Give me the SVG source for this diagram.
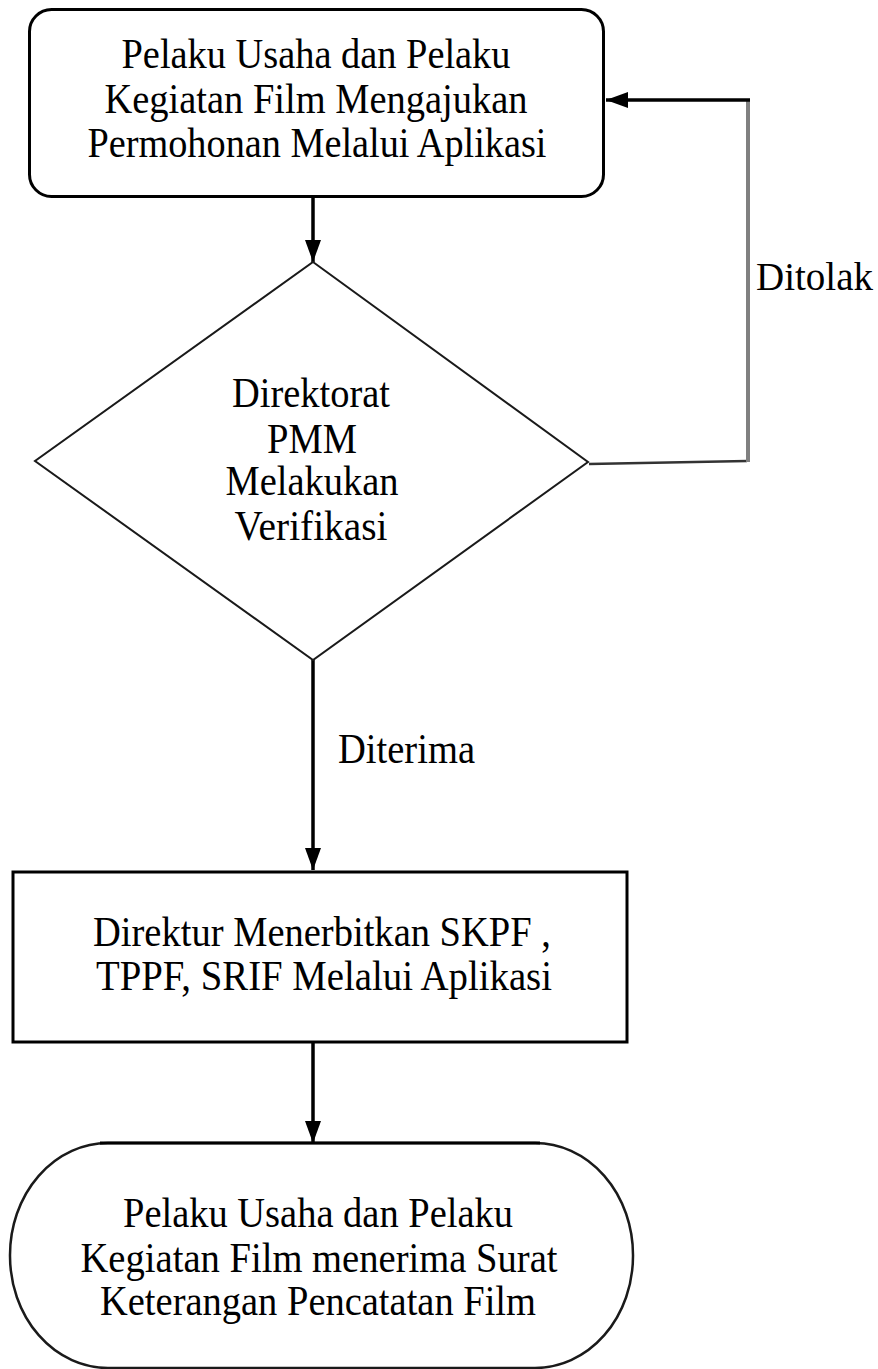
<svg xmlns="http://www.w3.org/2000/svg" width="878" height="1369" viewBox="0 0 878 1369">
<style>
.t{font-family:"Liberation Serif","Times New Roman",serif;font-size:42px;fill:#000;text-anchor:middle}
.l{font-family:"Liberation Serif","Times New Roman",serif;font-size:42px;fill:#000}
.box{fill:#fff;stroke:#000;stroke-width:3}
.thin{fill:#fff;stroke:#1a1a1a;stroke-width:2}
.c{fill:none;stroke:#000;stroke-width:3.5}
</style>
<defs>
<marker id="ah" viewBox="0 0 22 16" refX="22" refY="8" markerWidth="22" markerHeight="16" markerUnits="userSpaceOnUse" orient="auto">
<path d="M0,0 L22,8 L0,16 z" fill="#000"/>
</marker>
</defs>
<rect width="878" height="1369" fill="#fff"/>
<g id="connectors">
<line class="c" x1="313" y1="197" x2="313" y2="262" marker-end="url(#ah)"/>
<line class="c" x1="313" y1="660" x2="313" y2="870" marker-end="url(#ah)"/>
<line class="c" x1="313" y1="1042" x2="313" y2="1143" marker-end="url(#ah)"/>
<line x1="589" y1="464" x2="747" y2="461" stroke="#333" stroke-width="2.5"/>
<line x1="748" y1="462" x2="748" y2="99" stroke="#808080" stroke-width="4"/>
<line class="c" x1="750" y1="100" x2="606" y2="100" stroke-width="3" marker-end="url(#ah)"/>
<text class="l" x="756" y="290" style="font-size:39px">Ditolak</text>
<text class="l" x="338" y="763" textLength="137" lengthAdjust="spacingAndGlyphs">Diterima</text>
</g>
<g id="node-start">
<rect class="box" x="29.5" y="9.5" width="574" height="187" rx="22" ry="22"/>
<text class="t" x="316" y="68" textLength="389" lengthAdjust="spacingAndGlyphs">Pelaku Usaha dan Pelaku</text>
<text class="t" x="316" y="113" textLength="423" lengthAdjust="spacingAndGlyphs">Kegiatan Film Mengajukan</text>
<text class="t" x="317" y="157" textLength="459" lengthAdjust="spacingAndGlyphs">Permohonan Melalui Aplikasi</text>
</g>
<g id="node-decision">
<polygon class="thin" points="313,262 588,462 313,660 35,461"/>
<text class="t" x="311" y="407" textLength="158" lengthAdjust="spacingAndGlyphs">Direktorat</text>
<text class="t" x="312" y="453" textLength="90" lengthAdjust="spacingAndGlyphs">PMM</text>
<text class="t" x="312" y="495" textLength="173" lengthAdjust="spacingAndGlyphs">Melakukan</text>
<text class="t" x="311" y="540" textLength="153" lengthAdjust="spacingAndGlyphs">Verifikasi</text>
</g>
<g id="node-process">
<rect class="box" x="13" y="872" width="614" height="170" stroke-width="4"/>
<text class="t" x="322" y="946" textLength="458" lengthAdjust="spacingAndGlyphs">Direktur Menerbitkan SKPF ,</text>
<text class="t" x="324" y="990" textLength="456" lengthAdjust="spacingAndGlyphs">TPPF, SRIF Melalui Aplikasi</text>
</g>
<g id="node-end">
<rect x="10" y="1143" width="623" height="225" rx="98" ry="112" fill="#fff" stroke="#1a1a1a" stroke-width="2.5"/>
<line x1="100" y1="1143" x2="540" y2="1143" stroke="#000" stroke-width="3"/>
<text class="t" x="318" y="1227" textLength="390" lengthAdjust="spacingAndGlyphs">Pelaku Usaha dan Pelaku</text>
<text class="t" x="319" y="1272" textLength="477" lengthAdjust="spacingAndGlyphs">Kegiatan Film menerima Surat</text>
<text class="t" x="318" y="1315" textLength="436" lengthAdjust="spacingAndGlyphs">Keterangan Pencatatan Film</text>
</g>
</svg>
